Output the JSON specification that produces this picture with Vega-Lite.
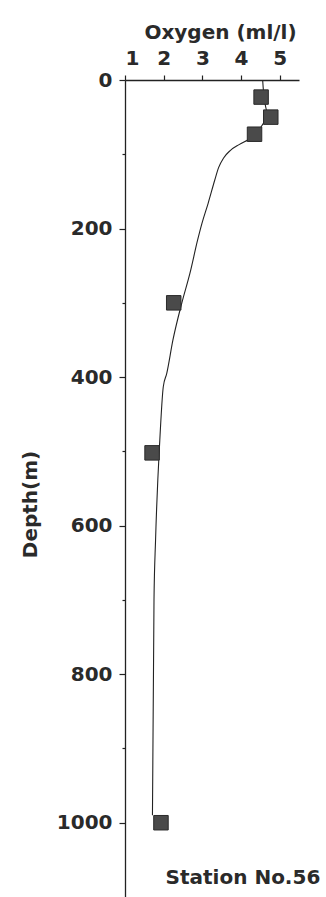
{
  "$schema": "https://vega.github.io/schema/vega-lite/v6.json",
  "width": 174,
  "height": 817,
  "autosize": "none",
  "padding": {"left": 125, "top": 80, "right": 27, "bottom": 0},
  "background": "white",
  "config": {
    "view": {"stroke": null},
    "font": "DejaVu Sans",
    "axis": {"grid": false, "domainColor": "#222", "tickColor": "#222", "labelColor": "#2a2a2a", "titleColor": "#2a2a2a", "labelFont": "DejaVu Sans", "titleFont": "DejaVu Sans", "labelFontWeight": "bold", "titleFontWeight": "bold", "domainWidth": 1.3, "tickWidth": 1.2}
  },
  "datasets": {
    "profile": [
      {"oxygen": 4.56, "depth": 0},
      {"oxygen": 4.6, "depth": 25},
      {"oxygen": 4.75, "depth": 50},
      {"oxygen": 4.35, "depth": 75},
      {"oxygen": 4.2, "depth": 80},
      {"oxygen": 3.95, "depth": 87},
      {"oxygen": 3.72, "depth": 95},
      {"oxygen": 3.55, "depth": 105},
      {"oxygen": 3.42, "depth": 118},
      {"oxygen": 3.32, "depth": 135},
      {"oxygen": 3.15, "depth": 166},
      {"oxygen": 2.99, "depth": 193},
      {"oxygen": 2.88, "depth": 215},
      {"oxygen": 2.68, "depth": 260},
      {"oxygen": 2.47, "depth": 300},
      {"oxygen": 2.24, "depth": 350},
      {"oxygen": 2.08, "depth": 395},
      {"oxygen": 1.99, "depth": 413},
      {"oxygen": 1.9, "depth": 485},
      {"oxygen": 1.79, "depth": 620},
      {"oxygen": 1.75, "depth": 700},
      {"oxygen": 1.71, "depth": 990}
    ],
    "samples": [
      {"oxygen": 4.52, "depth": 23},
      {"oxygen": 4.77, "depth": 50},
      {"oxygen": 4.35, "depth": 73},
      {"oxygen": 2.26, "depth": 300},
      {"oxygen": 1.7, "depth": 502},
      {"oxygen": 1.93, "depth": 1000}
    ],
    "label": [
      {"oxygen": 4.05, "depth": 1075, "text": "Station No.56"}
    ]
  },
  "layer": [
    {
      "data": {"name": "profile"},
      "mark": {"type": "line", "color": "#222", "strokeWidth": 1.1, "interpolate": "monotone"},
      "encoding": {
        "x": {
          "field": "oxygen", "type": "quantitative",
          "scale": {"domain": [1, 5.5], "nice": false, "zero": false},
          "axis": {
            "orient": "top",
            "title": "Oxygen (ml/l)",
            "titleFontSize": 20,
            "titlePadding": 6,
            "titleX": 95,
            "values": [1, 1.5, 2, 2.5, 3, 3.5, 4, 4.5, 5, 5.5],
            "labelExpr": "datum.value % 1 == 0 ? datum.label : ''",
            "labelFontSize": 20,
            "labelPadding": 7,
            "tickSize": {"condition": {"test": "datum.value % 1 == 0", "value": 5}, "value": 3}
          }
        },
        "y": {
          "field": "depth", "type": "quantitative",
          "scale": {"domain": [0, 1100], "nice": false, "zero": false, "reverse": true},
          "axis": {
            "orient": "left",
            "title": "Depth(m)",
            "titleFontSize": 20,
            "titleX": -95,
            "titleY": 424,
            "titleAngle": -90,
            "titleAlign": "center",
            "titleBaseline": "middle",
            "values": [0, 100, 200, 300, 400, 500, 600, 700, 800, 900, 1000],
            "labelExpr": "datum.value % 200 == 0 ? datum.label : ''",
            "format": "d",
            "labelFontSize": 20,
            "labelPadding": 7,
            "tickSize": {"condition": {"test": "datum.value % 200 == 0", "value": 6}, "value": 3}
          }
        },
        "order": {"field": "depth", "type": "quantitative"}
      }
    },
    {
      "data": {"name": "samples"},
      "mark": {"type": "square", "color": "#4a4a4a", "opacity": 1, "size": 210, "stroke": "#2a2a2a", "strokeWidth": 1},
      "encoding": {
        "x": {"field": "oxygen", "type": "quantitative"},
        "y": {"field": "depth", "type": "quantitative"}
      }
    },
    {
      "data": {"name": "label"},
      "mark": {"type": "text", "fontSize": 20, "fontWeight": "bold", "color": "#2a2a2a", "align": "center", "baseline": "middle", "clip": false},
      "encoding": {
        "x": {"field": "oxygen", "type": "quantitative"},
        "y": {"field": "depth", "type": "quantitative"},
        "text": {"field": "text"}
      }
    }
  ]
}
